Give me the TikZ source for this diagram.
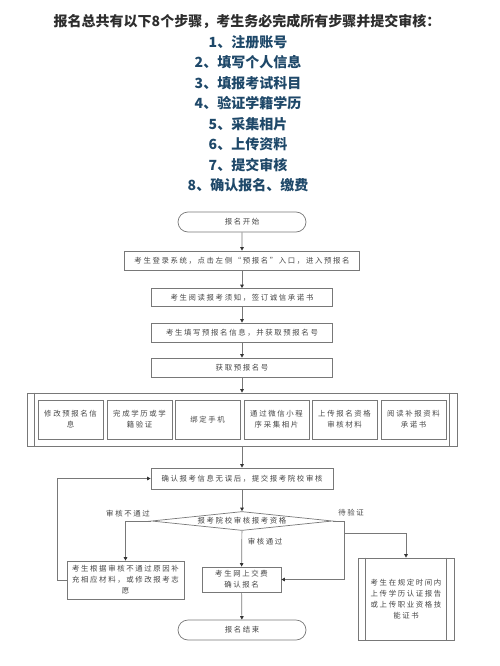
\documentclass[tikz,border=0pt]{standalone}
\usepackage{fontspec}
\setmainfont{Noto Sans CJK SC}
\newfontfamily\flowfont[LetterSpace=22]{Noto Sans CJK SC}
\usetikzlibrary{shapes.geometric,shapes.misc,arrows.meta}
\definecolor{titlecol}{RGB}{45,45,45}
\definecolor{stepcol}{RGB}{30,72,105}
\definecolor{linecol}{RGB}{120,120,120}
\definecolor{txtcol}{RGB}{70,70,70}
\tikzset{
  flowtxt/.style={font=\flowfont\fontsize{7.4}{11}\selectfont, text=txtcol, align=center},
  procbox/.style={flowtxt, draw=linecol, line width=0.7pt, rectangle, inner sep=1pt},
  termbox/.style={flowtxt, draw=linecol, line width=0.7pt, rounded rectangle, inner sep=1pt},
  decbox/.style={flowtxt, draw=linecol, line width=0.7pt, diamond, aspect=9.5, inner sep=0pt},
  conn/.style={draw=linecol, line width=0.7pt, -{Triangle[length=3.5pt,width=3.5pt,color=black!80]}},
  plainconn/.style={draw=linecol, line width=0.7pt},
  lbl/.style={flowtxt},
  titletxt/.style={font=\bfseries\fontsize{14}{16}\selectfont, text=titlecol},
  steptxt/.style={font=\bfseries\fontsize{14}{16}\selectfont, text=stepcol},
}
\begin{document}
\begin{tikzpicture}[x=1pt,y=-1pt]
\useasboundingbox[fill=white] (0,0) rectangle (500,666);
% heading
\node[titletxt] (title) at (247,21) {报名总共有以下8个步骤，考生务必完成所有步骤并提交审核：};
\node[steptxt] (s1) at (248,42) {1、注册账号};
\node[steptxt] (s2) at (248,62.5) {2、填写个人信息};
\node[steptxt] (s3) at (248,83) {3、填报考试科目};
\node[steptxt] (s4) at (248,103.5) {4、验证学籍学历};
\node[steptxt] (s5) at (248,124) {5、采集相片};
\node[steptxt] (s6) at (248,144.5) {6、上传资料};
\node[steptxt] (s7) at (248,165) {7、提交审核};
\node[steptxt] (s8) at (248,185.5) {8、确认报名、缴费};
% flow
\node[termbox, minimum width=130pt, minimum height=20pt] (start) at (242,222) {报名开始};
\node[procbox, minimum width=235pt, minimum height=19pt] (b1) at (242,260.5) {考生登录系统，点击左侧“预报名”入口，进入预报名};
\node[procbox, minimum width=181pt, minimum height=18pt] (b2) at (242,297.5) {考生阅读报考须知，签订诚信承诺书};
\node[procbox, minimum width=181pt, minimum height=19pt] (b3) at (242,332.5) {考生填写预报名信息，并获取预报名号};
\node[procbox, minimum width=181pt, minimum height=19pt] (b4) at (242,367.5) {获取预报名号};
\node[procbox, minimum width=430pt, minimum height=53pt] (big) at (242,419.5) {};
\draw[plainconn] ([xshift=8pt]big.north west) -- ([xshift=8pt]big.south west);
\draw[plainconn] ([xshift=-8pt]big.north east) -- ([xshift=-8pt]big.south east);
\node[procbox, minimum width=65pt, minimum height=39pt] (c1) at (70.5,419.5) {修改预报名信\\息};
\node[procbox, minimum width=65pt, minimum height=39pt] (c2) at (139.5,419.5) {完成学历或学\\籍验证};
\node[procbox, minimum width=65pt, minimum height=39pt] (c3) at (207.5,419.5) {绑定手机};
\node[procbox, minimum width=65pt, minimum height=39pt] (c4) at (276.5,419.5) {通过微信小程\\序采集相片};
\node[procbox, minimum width=65pt, minimum height=39pt] (c5) at (344.5,419.5) {上传报名资格\\审核材料};
\node[procbox, minimum width=65pt, minimum height=39pt] (c6) at (413.5,419.5) {阅读补报资料\\承诺书};
\node[procbox, minimum width=182pt, minimum height=21pt] (confirm) at (242,478.5) {确认报考信息无误后，提交报考院校审核};
\node[decbox, minimum width=181pt, minimum height=19pt] (dec) at (242,521) {报考院校审核报考资格};
\node[procbox, minimum width=117pt, minimum height=38pt] (left) at (125.5,580) {考生根据审核不通过原因补\\充相应材料，或修改报考志\\愿};
\node[procbox, minimum width=79pt, minimum height=25pt] (mid) at (241.5,579.5) {考生网上交费\\确认报名};
\node[termbox, minimum width=130pt, minimum height=20pt] (end) at (242,630) {报名结束};
\node[procbox, minimum width=96pt, minimum height=82pt] (right) at (406,599) {考生在规定时间内\\上传学历认证报告\\或上传职业资格技\\能证书};
\draw[plainconn] ([xshift=8pt]right.north west) -- ([xshift=8pt]right.south west);
\draw[plainconn] ([xshift=-8pt]right.north east) -- ([xshift=-8pt]right.south east);
% labels
\node[lbl] (lno) at (128,514) {审核不通过};
\node[lbl] (lwait) at (351,513) {待验证};
\node[lbl] (lyes) at (265,542) {审核通过};
% connectors
\draw[conn] (start) -- (b1);
\draw[conn] (b1) -- (b2);
\draw[conn] (b2) -- (b3);
\draw[conn] (b3) -- (b4);
\draw[conn] (b4) -- (big);
\draw[conn] (big) -- (confirm);
\draw[conn] (confirm) -- (dec);
\draw[conn] (dec) -- (mid);
\draw[conn] (mid) -- (end);
\draw[conn] (dec.west) -| (left.north);
\coordinate (rj) at (344,521);
\coordinate (rb) at (344,533);
\draw[conn] (dec.east) -- (rj) |- (mid.east);
\draw[conn] (rb) -| (right.north);
\coordinate (lb) at (57,580);
\draw[conn] (left.west) -- (lb) |- (confirm.west);
\end{tikzpicture}
\end{document}
